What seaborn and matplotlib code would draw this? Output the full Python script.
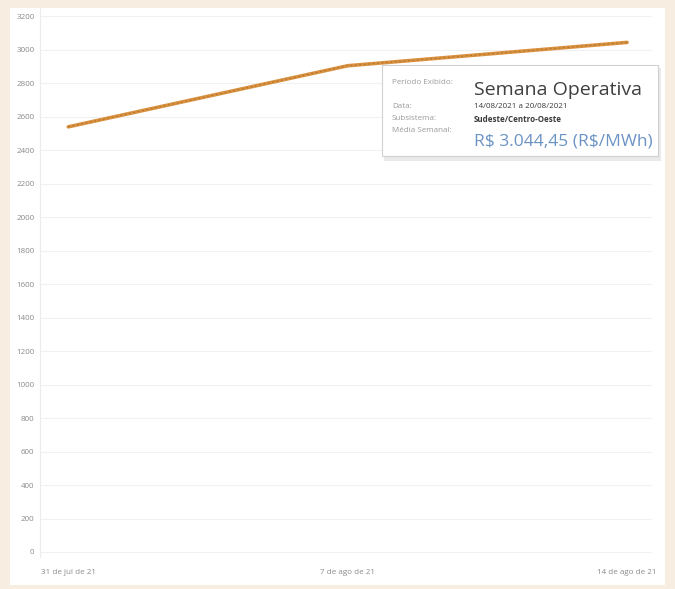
import matplotlib
matplotlib.use("Agg")
import matplotlib.pyplot as plt
import seaborn as sns
import pandas as pd
from matplotlib.patches import Rectangle

# Weekly average price (R$/MWh), Sudeste/Centro-Oeste
semanas = ["2021-07-31", "2021-08-07", "2021-08-14"]
precos = [2540.0, 2905.0, 3044.45]
rotulos_x = ["31 de jul de 21", "7 de ago de 21", "14 de ago de 21"]
rotulos_y = list(range(0, 3201, 200))

df = pd.DataFrame({"semana": pd.to_datetime(semanas), "preco": precos})

sns.set_theme(style="white")
plt.rcParams["font.family"] = ["Open Sans", "DejaVu Sans"]

fig = plt.figure(figsize=(6.75, 5.89), dpi=100)
fig.patch.set_facecolor("#f8ede1")

# white card behind the chart
ax_bg = fig.add_axes([10 / 675, 4 / 589, 655 / 675, 577 / 589], zorder=-5)
ax_bg.set_facecolor("white")
ax_bg.set_xticks([])
ax_bg.set_yticks([])
for s in ax_bg.spines.values():
    s.set_visible(False)

ax = fig.add_axes([40 / 675, 32 / 589, 612 / 675, 549 / 589], zorder=1)
ax.patch.set_alpha(0)

sns.lineplot(data=df, x="semana", y="preco", ax=ax, color="#d8913f",
             linewidth=2.6, zorder=3)
sns.lineplot(data=df, x="semana", y="preco", ax=ax, color="#b0702c",
             linewidth=0.8, linestyle=(0, (1.5, 2.5)), zorder=4)

ax.set_xlim(pd.Timestamp("2021-07-31") - pd.Timedelta(hours=17),
            pd.Timestamp("2021-08-14") + pd.Timedelta(hours=15))
ax.set_ylim(-30, 3250)

ax.set_yticks(rotulos_y)
ax.set_yticklabels([str(v) for v in rotulos_y], fontsize=5.8, color="#8a8a8a")
ax.set_xticks(df["semana"])
ax.set_xticklabels(rotulos_x, fontsize=5.8, color="#8a8a8a")
ax.tick_params(axis="both", length=0, pad=4)
ax.tick_params(axis="x", pad=9)

ax.grid(axis="y", color="#f1f1f1", linewidth=0.8)
for s in ["top", "right", "bottom"]:
    ax.spines[s].set_visible(False)
ax.spines["left"].set_color("#ececec")
ax.spines["left"].set_linewidth(0.8)
ax.set_xlabel("")
ax.set_ylabel("")

# tooltip box
ax_tip = fig.add_axes([382 / 675, 1 - 160 / 589, 278 / 675, 95 / 589], zorder=5)
ax_tip.set_xlim(0, 278)
ax_tip.set_ylim(95, 0)
ax_tip.axis("off")
ax_tip.add_patch(Rectangle((2, 3), 277, 93, facecolor="#dcdcdc",
                           edgecolor="none", alpha=0.6, clip_on=False))
ax_tip.add_patch(Rectangle((0, 0), 276, 91, facecolor="white",
                           edgecolor="#d0d0d0", linewidth=0.8, clip_on=False))
lbl = dict(fontsize=5.8, color="#9a9a9a", va="center", ha="left", parse_math=False)
val = dict(fontsize=5.8, color="#3a3a3a", va="center", ha="left", parse_math=False)
ax_tip.text(10, 18, "Período Exibido:", **lbl)
ax_tip.text(92, 25, "Semana Operativa", fontsize=14, color="#3f3f3f",
            va="center", ha="left")
ax_tip.text(10, 42, "Data:", **lbl)
ax_tip.text(92, 42, "14/08/2021 a 20/08/2021", **val)
ax_tip.text(10, 54, "Subsistema:", **lbl)
ax_tip.text(92, 54, "Sudeste/Centro-Oeste", fontweight="bold", **val)
ax_tip.text(10, 66, "Média Semanal:", **lbl)
valor = f"{precos[-1]:,.2f}".replace(",", "X").replace(".", ",").replace("X", ".")
ax_tip.text(92, 76, f"R$ {valor} (R$/MWh)", fontsize=12.5, color="#6b93c4",
            va="center", ha="left", parse_math=False)

fig.savefig("out.png", dpi=100, facecolor=fig.get_facecolor())
